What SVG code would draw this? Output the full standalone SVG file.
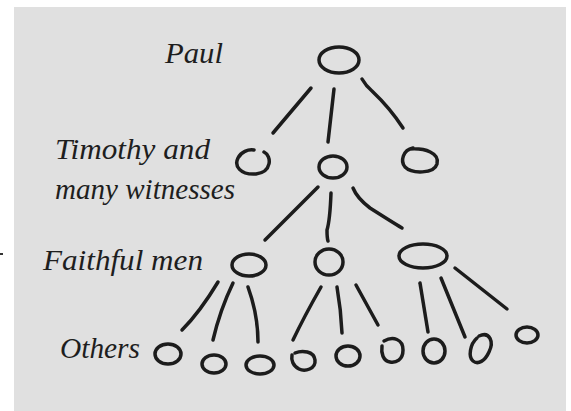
<svg xmlns="http://www.w3.org/2000/svg" width="571" height="411" viewBox="0 0 571 411">
<style>
.bg{fill:#e0e0e0}
.n{fill:none;stroke:#1c1c1c;stroke-width:3.5;stroke-linecap:round}
.e{fill:none;stroke:#1c1c1c;stroke-width:3.5;stroke-linecap:round}
.t{font-family:"Liberation Serif","DejaVu Serif",serif;font-style:italic;font-size:30px;fill:#1e1e1e}
</style>
<rect width="571" height="411" fill="#ffffff"/>
<rect class="bg" x="14" y="7" width="552" height="404"/>
<rect x="0" y="253" width="3" height="2" fill="#333"/>
<g id="labels">
<text class="t" x="165" y="63" textLength="58" lengthAdjust="spacingAndGlyphs">Paul</text>
<text class="t" x="55" y="159" textLength="155" lengthAdjust="spacingAndGlyphs">Timothy and</text>
<text class="t" x="55" y="199" textLength="180" lengthAdjust="spacingAndGlyphs">many witnesses</text>
<text class="t" x="43" y="270" textLength="160" lengthAdjust="spacingAndGlyphs">Faithful men</text>
<text class="t" x="60" y="358" textLength="80" lengthAdjust="spacingAndGlyphs">Others</text>
</g>
<g id="connectors">
<path class="e" d="M311,88 L273,133"/>
<path class="e" d="M334,89 Q331,115 328,142"/>
<path class="e" d="M362,79 Q366,86 372,91 Q390,108 403,128"/>
<path class="e" d="M318,187 L265,240"/>
<path class="e" d="M331,193 Q330,220 327,230 Q327,238 328,241"/>
<path class="e" d="M353,188 Q357,198 370,208 Q392,222 402,228"/>
<path class="e" d="M218,282 Q200,312 182,330"/>
<path class="e" d="M233,283 Q220,310 213,340"/>
<path class="e" d="M248,287 Q258,315 258,342"/>
<path class="e" d="M321,287 Q305,315 293,340"/>
<path class="e" d="M337,287 Q341,310 342,333"/>
<path class="e" d="M356,285 L378,325"/>
<path class="e" d="M420,283 L428,332"/>
<path class="e" d="M441,278 L465,337"/>
<path class="e" d="M455,268 L507,309"/>
</g>
<g id="paul"><ellipse class="n" cx="339" cy="60" rx="20" ry="13"/></g>
<g id="timothy-left"><path class="n" d="M264,152 C272,156 272,172 256,174 C240,175 234,166 238,158 C241,152 248,149 254,150"/></g>
<g id="timothy-mid"><ellipse class="n" cx="333" cy="167" rx="14" ry="11"/></g>
<g id="timothy-right"><path class="n" d="M410,149 C425,148 440,153 437,164 C434,174 412,174 405,167 C400,161 403,150 413,148"/></g>
<g id="faithful-left"><ellipse class="n" cx="249" cy="265" rx="17" ry="11"/></g>
<g id="faithful-mid"><ellipse class="n" cx="329" cy="262" rx="14" ry="13"/></g>
<g id="faithful-right"><ellipse class="n" cx="423" cy="256" rx="24" ry="12"/></g>
<g id="other-1"><ellipse class="n" cx="168" cy="354" rx="13" ry="10"/></g>
<g id="other-2"><ellipse class="n" cx="214" cy="364" rx="12" ry="9"/></g>
<g id="other-3"><ellipse class="n" cx="260" cy="365" rx="14" ry="9"/></g>
<g id="other-4"><path class="n" d="M295,353 C302,350 314,351 315,360 C316,369 305,372 299,369 C293,366 291,360 292,355"/></g>
<g id="other-5"><ellipse class="n" cx="348" cy="356" rx="12" ry="10"/></g>
<g id="other-6"><path class="n" d="M384,341 C393,336 403,339 403,350 C403,360 396,363 390,362 C383,361 381,353 382,346"/></g>
<g id="other-7"><ellipse class="n" cx="434" cy="351" rx="11" ry="12"/></g>
<g id="other-8"><path class="n" d="M479,336 C490,331 494,342 489,352 C485,361 478,365 473,361 C468,357 470,344 477,338"/></g>
<g id="other-9"><ellipse class="n" cx="527" cy="335" rx="11" ry="8"/></g>
</svg>
